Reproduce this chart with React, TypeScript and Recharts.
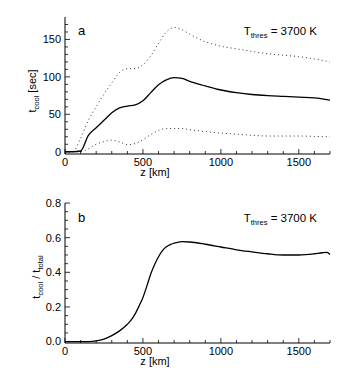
import { LineChart, Line, XAxis, YAxis } from 'recharts'

// z grid [km]
const zA = [0, 50, 100, 150, 200, 250, 300, 350, 400, 450, 500, 550, 600, 650, 700, 750, 800, 900, 1000, 1100, 1200, 1300, 1400, 1500, 1600, 1700]
// panel a: cooling time mean and +/- spread [sec]
const coolMean = [0, 0, 1, 22, 32, 42, 52, 58.5, 61, 62.5, 68, 79, 89.5, 96, 99, 98, 94, 88, 82.5, 79, 76.5, 75, 74, 73, 72, 69]
const coolUpper = [0, 0, 18, 42, 60, 77, 92, 106, 111, 111, 116, 128, 145, 160, 166, 163, 157, 147, 141, 137.5, 134, 131, 129, 127, 124, 120]
const coolLower = [0, 0, 0, 4, 10, 13.5, 15.5, 13, 9.5, 11, 16, 23, 28.5, 31, 31, 31, 29.5, 27, 25, 23.5, 22, 21, 21, 21, 20.5, 20]

const zB = [0, 50, 100, 150, 200, 250, 300, 350, 400, 425, 450, 475, 500, 525, 550, 575, 600, 625, 650, 675, 700, 750, 800, 900, 1000, 1100, 1200, 1300, 1400, 1500, 1600, 1650, 1680, 1700]
// panel b: t_cool / t_total
const coolFrac = [0, 0, 0, 0, 0.004, 0.015, 0.035, 0.062, 0.1, 0.125, 0.16, 0.205, 0.255, 0.32, 0.39, 0.445, 0.49, 0.525, 0.547, 0.56, 0.568, 0.577, 0.575, 0.562, 0.546, 0.53, 0.518, 0.507, 0.5, 0.5, 0.507, 0.513, 0.515, 0.503]

const xTicks = [0, 100, 200, 300, 400, 500, 600, 700, 800, 900, 1000, 1100, 1200, 1300, 1400, 1500, 1600, 1700]
const xLabels = [0, 500, 1000, 1500]
const yTicksA = [0, 10, 20, 30, 40, 50, 60, 70, 80, 90, 100, 110, 120, 130, 140, 150, 160, 170]
const yLabelsA = [0, 50, 100, 150]
const yTicksB = [0, 0.05, 0.1, 0.15, 0.2, 0.25, 0.3, 0.35, 0.4, 0.45, 0.5, 0.55, 0.6, 0.65, 0.7, 0.75, 0.8]
const yLabelsB = [0, 0.2, 0.4, 0.6, 0.8]

const dataA = zA.map((z, i) => ({ z, mean: coolMean[i], upper: coolUpper[i], lower: coolLower[i] }))
const dataB = zB.map((z, i) => ({ z, frac: coolFrac[i] }))

const FONT = '"Liberation Sans", Arial, sans-serif'
const M = 4

const isMajor = (v: number, labels: number[]) => labels.some(l => Math.abs(l - v) < 1e-6)

function BottomTick({ x, y, payload, labels }: any) {
  const major = isMajor(payload.value, labels)
  return (
    <g>
      <line x1={x} x2={x} y1={y - M} y2={y - M - (major ? 5 : 3)} stroke="#000" strokeWidth={0.8} />
      {major && (
        <text x={x} y={y} dy="0.71em" textAnchor="middle" fontSize={11} fontFamily={FONT} fill="#000">
          {payload.value}
        </text>
      )}
    </g>
  )
}

function TopTick({ x, y, payload, labels }: any) {
  const major = isMajor(payload.value, labels)
  return <line x1={x} x2={x} y1={y} y2={y + (major ? 5 : 3)} stroke="#000" strokeWidth={0.8} />
}

function LeftTick({ x, y, payload, labels, fmt }: any) {
  const major = isMajor(payload.value, labels)
  return (
    <g>
      <line x1={x + M} x2={x + M + (major ? 5 : 3)} y1={y} y2={y} stroke="#000" strokeWidth={0.8} />
      {major && (
        <text x={x} y={y} dy="0.35em" textAnchor="end" fontSize={11} fontFamily={FONT} fill="#000">
          {fmt(payload.value)}
        </text>
      )}
    </g>
  )
}

function RightTick({ x, y, payload, labels }: any) {
  const major = isMajor(payload.value, labels)
  return <line x1={x} x2={x - (major ? 5 : 3)} y1={y} y2={y} stroke="#000" strokeWidth={0.8} />
}

function Frame({ yTicks, yLabels, yDomain, fmt, xHeight }: any) {
  return [
    <XAxis key="xb" xAxisId="b" dataKey="z" type="number" domain={[0, 1700]} ticks={xTicks} interval={0}
      height={xHeight} tickSize={0} tickMargin={M} stroke="#000"
      tick={(p: any) => <BottomTick {...p} labels={xLabels} />} />,
    <XAxis key="xt" xAxisId="t" orientation="top" dataKey="z" type="number" domain={[0, 1700]} ticks={xTicks} interval={0}
      height={0} tickSize={0} tickMargin={0} stroke="#000"
      tick={(p: any) => <TopTick {...p} labels={xLabels} />} />,
    <YAxis key="yl" yAxisId="l" type="number" domain={yDomain} ticks={yTicks} interval={0} width={65}
      tickSize={0} tickMargin={M} stroke="#000" allowDataOverflow
      tick={(p: any) => <LeftTick {...p} labels={yLabels} fmt={fmt} />} />,
    <YAxis key="yr" yAxisId="r" orientation="right" type="number" domain={yDomain} ticks={yTicks} interval={0} width={0}
      tickSize={0} tickMargin={0} stroke="#000" allowDataOverflow
      tick={(p: any) => <RightTick {...p} labels={yLabels} />} />,
  ]
}

const txt = { fontFamily: FONT, fill: '#000' }

export default function App() {
  return (
    <div style={{ position: 'absolute', left: 0, top: 0, width: 346, height: 374, background: '#fff' }}>
      <div style={{ position: 'absolute', left: 0, top: 0 }}>
        <LineChart width={346} height={187} data={dataA} margin={{ top: 17, right: 16, left: 0, bottom: 0 }}>
          {Frame({ yTicks: yTicksA, yLabels: yLabelsA, yDomain: [-3, 180], fmt: (v: number) => String(v), xHeight: 33 })}
          <Line xAxisId="b" yAxisId="l" type="monotone" dataKey="upper" stroke="#333" strokeWidth={1} strokeDasharray="1 3" dot={false} isAnimationActive={false} />
          <Line xAxisId="b" yAxisId="l" type="monotone" dataKey="lower" stroke="#333" strokeWidth={1} strokeDasharray="1 3" dot={false} isAnimationActive={false} />
          <Line xAxisId="b" yAxisId="l" type="monotone" dataKey="mean" stroke="#000" strokeWidth={1.3} dot={false} isAnimationActive={false} />
        </LineChart>
      </div>
      <div style={{ position: 'absolute', left: 0, top: 187 }}>
        <LineChart width={346} height={187} data={dataB} margin={{ top: 16, right: 16, left: 0, bottom: 0 }}>
          {Frame({ yTicks: yTicksB, yLabels: yLabelsB, yDomain: [-0.008, 0.8], fmt: (v: number) => v.toFixed(1), xHeight: 31 })}
          <Line xAxisId="b" yAxisId="l" type="monotone" dataKey="frac" stroke="#000" strokeWidth={1.3} dot={false} isAnimationActive={false} />
        </LineChart>
      </div>
      <svg width={346} height={374} style={{ position: 'absolute', left: 0, top: 0, pointerEvents: 'none' }}>
        {/* panel a */}
        <text x={78} y={35} fontSize={13} {...txt}>a</text>
        <text x={317} y={35} textAnchor="end" fontSize={11.5} {...txt}>
          T<tspan fontSize={7.5} dy={2.5}>thres</tspan><tspan dy={-2.5}> = 3700 K</tspan>
        </text>
        <text x={155} y={176} textAnchor="middle" fontSize={11} {...txt}>z [km]</text>
        <text transform="translate(36,91) rotate(-90)" textAnchor="middle" fontSize={11} {...txt}>
          t<tspan fontSize={7.5} dy={2.5}>cool</tspan><tspan dy={-2.5}> [sec]</tspan>
        </text>
        {/* panel b */}
        <text x={78} y={222} fontSize={13} {...txt}>b</text>
        <text x={317} y={222} textAnchor="end" fontSize={11.5} {...txt}>
          T<tspan fontSize={7.5} dy={2.5}>thres</tspan><tspan dy={-2.5}> = 3700 K</tspan>
        </text>
        <text x={155} y={365} textAnchor="middle" fontSize={11} {...txt}>z [km]</text>
        <text transform="translate(40,277) rotate(-90)" textAnchor="middle" fontSize={11} {...txt}>
          t<tspan fontSize={7.5} dy={2.5}>cool</tspan><tspan dy={-2.5}> / t</tspan><tspan fontSize={7.5} dy={2.5}>total</tspan>
        </text>
      </svg>
    </div>
  )
}
